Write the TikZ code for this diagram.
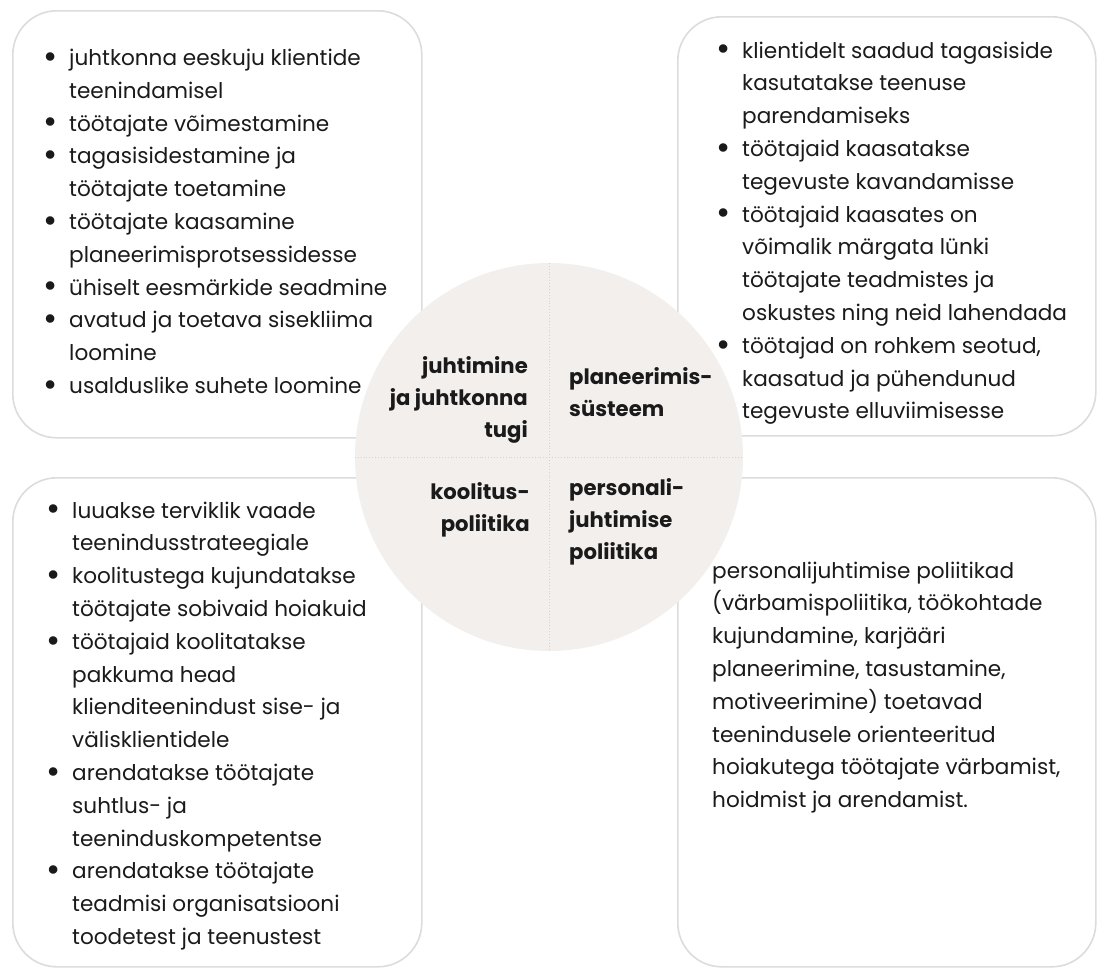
\documentclass[tikz,border=0pt]{standalone}
\usepackage{fontspec}
\setmainfont{Poppins}
\usepackage{array}

\definecolor{ink}{HTML}{1A1A1A}
\definecolor{frame}{HTML}{DCDCDC}
\definecolor{disc}{HTML}{F2EFED}
\definecolor{divider}{HTML}{D4D1CF}

\newlength\bodyref
\newlength\labelref
% bullet centred on the node's x, text 19pt to the right
\newcommand\bul{\makebox[0pt][c]{\raisebox{-0.13em}{\scalebox{1.6}{\textbullet}}}\hspace{19pt}}
\newcommand\cont{\hspace{19pt}}

\begin{document}
% font sizes fitted to the column widths
\settowidth\bodyref{\fontsize{20pt}{24pt}\selectfont ühiselt eesmärkide seadmine}%
\pgfmathsetmacro\bodysize{20*318/\bodyref}%
\settowidth\labelref{\fontsize{20pt}{24pt}\selectfont\bfseries ja juhtkonna}%
\pgfmathsetmacro\labelsize{20*138/\labelref}%
\begin{tikzpicture}[x=1pt,y=-1pt]
  \tikzset{
    panel/.style={draw=frame, line width=1.6pt, rounded corners=44pt,
      fill=white, inner sep=0pt, anchor=north west},
    hubdisc/.style={circle, fill=disc, inner sep=0pt, minimum size=388pt},
    divline/.style={draw=divider, line width=0.9pt, dotted},
    bodytext/.style={inner sep=0pt, text=ink,
      font=\fontsize{\bodysize pt}{32.8pt}\selectfont},
    hubtext/.style={inner sep=0pt, text=ink,
      font=\fontsize{\labelsize pt}{32pt}\selectfont\bfseries},
  }

  \useasboundingbox (0,0) rectangle (1097,967);

  % four rounded panels
  \node[panel, minimum width=409pt, minimum height=427pt] (tl) at (12,10) {};
  \node[panel, minimum width=418pt, minimum height=419pt] (tr) at (677,16) {};
  \node[panel, minimum width=409pt, minimum height=489pt] (bl) at (12,477) {};
  \node[panel, minimum width=418pt, minimum height=489pt] (br) at (677,477) {};

  % central disc split into quarters
  \node[hubdisc] (hub) at (549,457) {};
  \draw[divline] (hub.north) -- (hub.south);
  \draw[divline] (hub.west) -- (hub.east);

  % quarter labels
  \node[hubtext, anchor=base east] (lead) at (528,373)
    {\begin{tabular}[t]{@{}r@{}}juhtimine\\ja juhtkonna\\tugi\end{tabular}};
  \node[hubtext, anchor=base west] (plan) at (569,384)
    {\begin{tabular}[t]{@{}l@{}}planeerimis-\\süsteem\end{tabular}};
  \node[hubtext, anchor=base east] (train) at (530,499)
    {\begin{tabular}[t]{@{}r@{}}koolitus-\\poliitika\end{tabular}};
  \node[hubtext, anchor=base west] (hr) at (569,495)
    {\begin{tabular}[t]{@{}l@{}}personali-\\juhtimise\\poliitika\end{tabular}};

  % panel texts
  \node[bodytext, anchor=base west] (tltext) at (50,65.5)
    {\begin{tabular}[t]{@{}l@{}}
      \bul juhtkonna eeskuju klientide\\
      \cont teenindamisel\\
      \bul töötajate võimestamine\\
      \bul tagasisidestamine ja\\
      \cont töötajate toetamine\\
      \bul töötajate kaasamine\\
      \cont planeerimisprotsessidesse\\
      \bul ühiselt eesmärkide seadmine\\
      \bul avatud ja toetava sisekliima\\
      \cont loomine\\
      \bul usalduslike suhete loomine
    \end{tabular}};

  \node[bodytext, anchor=base west] (trtext) at (723,58)
    {\begin{tabular}[t]{@{}l@{}}
      \bul klientidelt saadud tagasiside\\
      \cont kasutatakse teenuse\\
      \cont parendamiseks\\
      \bul töötajaid kaasatakse\\
      \cont tegevuste kavandamisse\\
      \bul töötajaid kaasates on\\
      \cont võimalik märgata lünki\\
      \cont töötajate teadmistes ja\\
      \cont oskustes ning neid lahendada\\
      \bul töötajad on rohkem seotud,\\
      \cont kaasatud ja pühendunud\\
      \cont tegevuste elluviimisesse
    \end{tabular}};

  \node[bodytext, anchor=base west] (bltext) at (53,518)
    {\begin{tabular}[t]{@{}l@{}}
      \bul luuakse terviklik vaade\\
      \cont teenindusstrateegiale\\
      \bul koolitustega kujundatakse\\
      \cont töötajate sobivaid hoiakuid\\
      \bul töötajaid koolitatakse\\
      \cont pakkuma head\\
      \cont klienditeenindust sise- ja\\
      \cont välisklientidele\\
      \bul arendatakse töötajate\\
      \cont suhtlus- ja\\
      \cont teeninduskompetentse\\
      \bul arendatakse töötajate\\
      \cont teadmisi organisatsiooni\\
      \cont toodetest ja teenustest
    \end{tabular}};

  \node[bodytext, anchor=base west] (brtext) at (712,578)
    {\begin{tabular}[t]{@{}l@{}}
      personalijuhtimise poliitikad\\
      (värbamispoliitika, töökohtade\\
      kujundamine, karjääri\\
      planeerimine, tasustamine,\\
      motiveerimine) toetavad\\
      teenindusele orienteeritud\\
      hoiakutega töötajate värbamist,\\
      hoidmist ja arendamist.
    \end{tabular}};
\end{tikzpicture}
\end{document}
